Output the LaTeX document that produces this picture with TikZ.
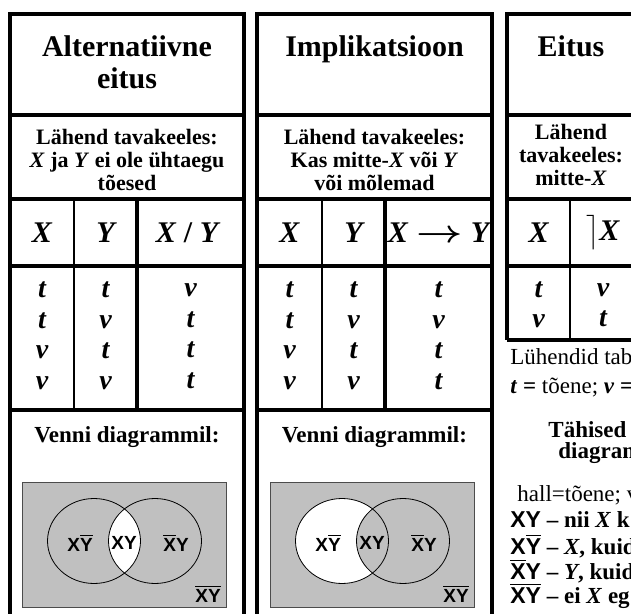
\documentclass[tikz,border=0pt]{standalone}
\usepackage{amsmath}
\usepackage{graphicx}
\usepackage{fontspec}
\setmainfont{Liberation Serif}
\newfontfamily\arialfont{Liberation Sans}
\usetikzlibrary{positioning}

\definecolor{vennfill}{HTML}{C0C0C0}
\newcommand{\ovl}[1]{$\overline{\mbox{#1}}$}

\tikzset{
  frame/.style={line width=2pt},
  thinrule/.style={line width=1pt},
  titletxt/.style={font=\fontsize{15}{16}\selectfont\bfseries, align=center, anchor=north, inner sep=0pt},
  lahend/.style={font=\fontsize{11}{11.5}\selectfont\bfseries, align=center, inner sep=0pt},
  headtxt/.style={font=\fontsize{15}{16}\selectfont\bfseries\itshape, inner sep=0pt},
  valtxt/.style={font=\fontsize{14}{15.25}\selectfont\bfseries\itshape, align=center, inner sep=0pt},
  venntitle/.style={font=\fontsize{11.5}{13}\selectfont\bfseries, inner sep=0pt},
  vennlbl/.style={font=\arialfont\bfseries\fontsize{9.5}{10}\selectfont, inner sep=0pt},
  notetxt/.style={font=\fontsize{11.5}{13}\selectfont, anchor=west, inner sep=0pt},
  legend/.style={font=\fontsize{11.5}{13}\selectfont\bfseries, anchor=west, inner sep=0pt},
  ring/.style={line width=0.4pt, x radius=23.25pt, y radius=21.25pt},
}

\begin{document}
\begin{tikzpicture}[x=0.5pt, y=-0.5pt]
  \useasboundingbox (0,0) rectangle (631,614);
  \fill[white] (0,0) rectangle (631,614);
  \clip (0,0) rectangle (631,614);

  % panel 1: alternatiivne eitus
  \draw[frame] (10,620) -- (10,14) -- (244,14) -- (244,620);
  \draw[frame] (10,115) -- (244,115);
  \draw[frame] (10,199) -- (244,199);
  \draw[frame] (10,266) -- (244,266);
  \draw[frame] (10,410) -- (244,410);
  \draw[thinrule] (74,199) -- (74,410);
  \draw[frame] (137,199) -- (137,410);

  \node[titletxt] (title1) at (127,35) {Alternatiivne\\eitus};
  \node[lahend] (lah1) at (127,160) {Lähend tavakeeles:\\\textit{X} ja \textit{Y} ei ole ühtaegu\\tõesed};
  \node[headtxt] (h1x) at (42,233) {X};
  \node[headtxt] (h1y) at (105.5,233) {Y};
  \node[headtxt] (h1r) at (187,233) {X \textup{/} Y};
  \node[valtxt] (c1x) at (42,336) {t\\t\\v\\v};
  \node[valtxt] (c1y) at (105.5,336) {t\\v\\t\\v};
  \node[valtxt] (c1r) at (190.5,336) {v\\t\\t\\t};
  \node[venntitle] (vt1) at (127,437) {Venni diagrammil:};

  % venn: koik peale XY
  \draw[fill=vennfill, draw=black!70, line width=0.5pt] (22,482) rectangle (226,607);
  \begin{scope}
    \clip (94,541) ellipse [ring];
    \fill[white] (155,541) ellipse [ring];
  \end{scope}
  \draw[ring] (94,541) ellipse [ring];
  \draw[ring] (155,541) ellipse [ring];
  \node[vennlbl] (a1) at (80,543) {X\ovl{Y}};
  \node[vennlbl] (b1) at (124,543) {XY};
  \node[vennlbl] (c1) at (176,543) {\ovl{X}Y};
  \node[vennlbl] (d1) at (208,594) {\ovl{X}\ovl{Y}};

  % panel 2: implikatsioon
  \draw[frame] (257,620) -- (257,14) -- (492,14) -- (492,620);
  \draw[frame] (257,115) -- (492,115);
  \draw[frame] (257,199) -- (492,199);
  \draw[frame] (257,266) -- (492,266);
  \draw[frame] (257,410) -- (492,410);
  \draw[thinrule] (322,199) -- (322,410);
  \draw[frame] (385,199) -- (385,410);

  \node[titletxt] (title2) at (374.5,35) {Implikatsioon};
  \node[lahend] (lah2) at (374.5,160) {Lähend tavakeeles:\\Kas mitte-\textit{X} või \textit{Y}\\või mõlemad};
  \node[headtxt] (h2x) at (289.5,233) {X};
  \node[headtxt] (h2y) at (353.5,233) {Y};
  \node[headtxt] (h2r) at (438.5,233) {X\;\scalebox{1.4}[1.1]{$\boldsymbol{\rightarrow}$}\;Y};
  \node[valtxt] (c2x) at (289.5,336) {t\\t\\v\\v};
  \node[valtxt] (c2y) at (353.5,336) {t\\v\\t\\v};
  \node[valtxt] (c2r) at (438.5,336) {t\\v\\t\\t};
  \node[venntitle] (vt2) at (374.5,437) {Venni diagrammil:};

  % venn: koik peale X ilma Y
  \draw[fill=vennfill, draw=black!70, line width=0.5pt] (270,482) rectangle (474,607);
  \fill[white] (342,541) ellipse [ring];
  \begin{scope}
    \clip (342,541) ellipse [ring];
    \fill[vennfill] (403,541) ellipse [ring];
  \end{scope}
  \draw[ring] (342,541) ellipse [ring];
  \draw[ring] (403,541) ellipse [ring];
  \node[vennlbl] (a2) at (328,543) {X\ovl{Y}};
  \node[vennlbl] (b2) at (372,543) {XY};
  \node[vennlbl] (c2) at (424,543) {\ovl{X}Y};
  \node[vennlbl] (d2) at (456,594) {\ovl{X}\ovl{Y}};

  % panel 3: eitus
  \draw[frame] (507,340) -- (507,14) -- (640,14);
  \draw[frame] (507,115) -- (640,115);
  \draw[frame] (507,199) -- (640,199);
  \draw[frame] (507,266) -- (640,266);
  \draw[frame] (507,340) -- (640,340);
  \draw[thinrule] (570,199) -- (570,340);

  \node[titletxt] (title3) at (571,35) {Eitus};
  \node[lahend] (lah3) at (571,155) {Lähend\\tavakeeles:\\mitte-\textit{X}};
  \node[headtxt] (h3x) at (538.5,233) {X};
  \node[headtxt] (h3n) at (603,233) {$\big\rceil$\kern-0.5pt X};
  \node[valtxt] (c3x) at (538.5,305) {t\\v};
  \node[valtxt] (c3n) at (603,305) {v\\t};

  % luhendid ja tahised
  \node[notetxt] (n1) at (510,357) {Lühendid tab};
  \node[notetxt] (n2) at (510,388) {\textbf{\textit{t} =} tõene; \textbf{\textit{v} =}};
  \node[venntitle, anchor=west] (n3) at (548,430) {Tähised};
  \node[venntitle, anchor=west] (n4) at (558,453) {diagram};
  \node[notetxt] (n5) at (517,495) {hall=tõene; v};
  \node[legend] (n6) at (510,520) {{\arialfont XY} -- nii \textit{X} k};
  \node[legend] (n7) at (510,546) {{\arialfont X\ovl{Y}} -- \textit{X}, kuid};
  \node[legend] (n8) at (510,571) {{\arialfont \ovl{X}Y} -- \textit{Y}, kuid};
  \node[legend] (n9) at (510,596) {{\arialfont \ovl{XY}} -- ei \textit{X} eg};
\end{tikzpicture}
\end{document}
